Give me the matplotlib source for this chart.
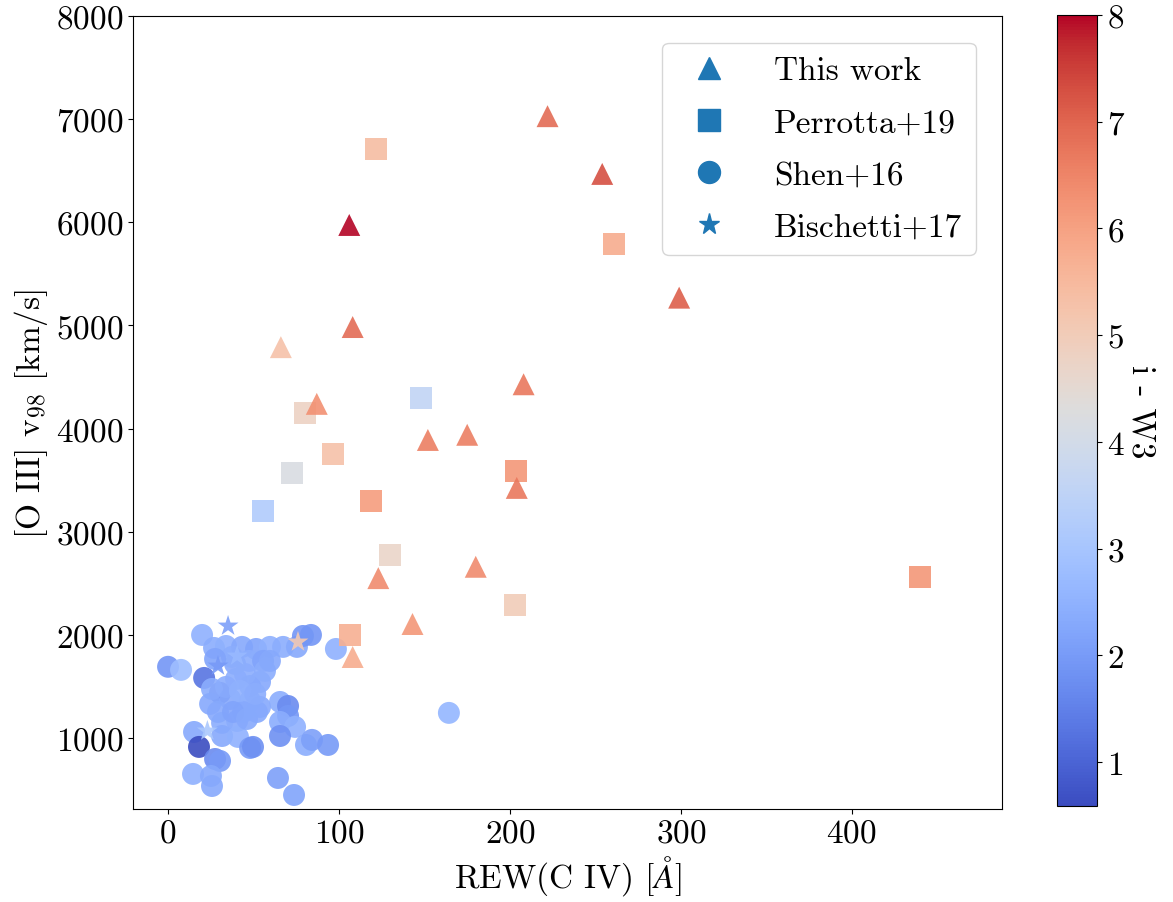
import matplotlib
matplotlib.use("Agg")
import matplotlib.pyplot as plt
from matplotlib.lines import Line2D

plt.rcParams["font.family"] = "serif"
plt.rcParams["font.serif"] = ["cmr10"]
plt.rcParams["mathtext.fontset"] = "cm"
plt.rcParams["axes.formatter.use_mathtext"] = True
plt.rcParams["axes.unicode_minus"] = False

# This work
this_rew = [222, 254, 106, 299, 108, 66, 208, 87, 152, 175, 204, 123, 180, 143, 108]
this_v98 = [7030, 6470, 5975, 5270, 4985, 4790, 4430, 4240, 3890, 3940, 3425, 2550, 2660, 2105, 1785]
this_iw3 = [6.9, 7.3, 8.0, 7.1, 6.9, 5.3, 6.7, 6.3, 6.6, 6.6, 6.7, 6.4, 6.4, 6.2, 5.8]

# Perrotta+19
perr_rew = [121.6, 261, 148, 80, 96.5, 72.5, 203.5, 55.5, 119, 130, 203, 440, 106.5]
perr_v98 = [6710, 5790, 4300, 4150, 3755, 3570, 3590, 3200, 3300, 2775, 2290, 2560, 2000]
perr_iw3 = [5.4, 5.8, 3.6, 4.8, 5.3, 4.2, 6.2, 3.2, 6.1, 4.7, 5.0, 6.2, 5.7]

# Shen+16
shen_rew = [0, 7.6, 19.9, 26.9, 33.9, 43.3, 51.5, 59.6, 67.3, 75.4, 78.9, 83.6, 98.2,
            21.1, 30.4, 39.2, 47.4, 55.6, 53.8, 39.8, 48.0, 33.9, 25.7, 36.3, 48.0,
            43.9, 53.8, 40.4, 31.6, 65.5, 70.2, 15.2, 18.1, 31.6, 40.9, 48.0, 27.5,
            30.4, 14.6, 25.1, 25.7, 29.2, 38.0, 46.2, 52.0, 70.2, 65.5, 74.3, 65.5,
            49.7, 80.7, 84.2, 93.6, 64.3, 73.7, 164.3, 45.0, 56.7, 42.0, 51.0, 37.4,
            27.5, 59.6, 24.6]
shen_v98 = [1690, 1660, 1999, 1873, 1892, 1883, 1863, 1883, 1883, 1883, 1989, 1999, 1863,
            1582, 1437, 1718, 1747, 1747, 1543, 1572, 1504, 1495, 1475, 1378, 1359,
            1252, 1301, 1165, 1146, 1349, 1310, 1058, 913, 1019, 1010, 903, 796,
            777, 651, 631, 534, 1252, 1252, 1184, 1252, 1213, 1155, 1107, 1019,
            913, 932, 981, 932, 612, 447, 1243, 1620, 1650, 1456, 1427, 1786,
            1766, 1747, 1330]
shen_iw3 = [1.9, 2.8, 2.5, 2.4, 2.5, 2.3, 2.2, 2.5, 2.4, 2.3, 1.9, 1.9, 2.5,
            1.3, 1.2, 2.3, 2.4, 2.2, 2.3, 2.4, 2.3, 2.4, 2.4, 2.3, 2.3,
            2.3, 2.3, 2.3, 2.4, 2.4, 1.7, 2.3, 0.59, 2.3, 2.5, 2.0, 1.7,
            2.0, 2.5, 2.3, 2.3, 2.3, 2.2, 2.3, 2.3, 1.9, 2.4, 2.5, 1.8,
            1.8, 2.4, 2.1, 2.0, 2.1, 2.2, 2.6, 2.4, 2.4, 2.5, 2.4, 2.4,
            2.2, 2.3, 2.3]

# Bischetti+17
bisc_rew = [35.1, 76.0, 29.2, 40.4, 23.0]
bisc_v98 = [2086, 1931, 1698, 1795, 1068]
bisc_iw3 = [2.1, 5.1, 2.0, 2.7, 3.1]

legend_labels = ["This work", "Perrotta+19", "Shen+16", "Bischetti+17"]

vmin, vmax = 0.59, 8.0
cmap = "coolwarm"
msize = 250
alpha = 0.9

fig = plt.figure(figsize=(11.73, 9.03), dpi=100)
ax = fig.add_axes([0.1134, 0.103, 0.741, 0.878])
cax = fig.add_axes([0.901, 0.1063, 0.0341, 0.876])

ax.scatter(shen_rew, shen_v98, c=shen_iw3, cmap=cmap, vmin=vmin, vmax=vmax,
           marker="o", s=msize, alpha=alpha, linewidths=0)
ax.scatter(perr_rew, perr_v98, c=perr_iw3, cmap=cmap, vmin=vmin, vmax=vmax,
           marker="s", s=msize, alpha=alpha, linewidths=0)
sc = ax.scatter(this_rew, this_v98, c=this_iw3, cmap=cmap, vmin=vmin, vmax=vmax,
                marker="^", s=msize, alpha=alpha, linewidths=0)
ax.scatter(bisc_rew, bisc_v98, c=bisc_iw3, cmap=cmap, vmin=vmin, vmax=vmax,
           marker="*", s=msize, alpha=alpha, linewidths=0)

ax.set_xlim(-20.5, 488)
ax.set_ylim(311, 8000)
ax.set_xticks([0, 100, 200, 300, 400])
ax.set_yticks(range(1000, 8001, 1000))
ax.tick_params(labelsize=24)
ax.set_xlabel(r"REW(C IV) [$\AA$]", fontsize=24)
ax.set_ylabel(r"[O III] v$_{98}$ [km/s]", fontsize=24)

handles = [
    Line2D([], [], linestyle="none", marker=m, color="C0", markersize=msize ** 0.5)
    for m in ["^", "s", "o", "*"]
]
ax.legend(handles, legend_labels, loc="upper right", fontsize=24,
          handletextpad=0.95, borderpad=0.4, labelspacing=0.68,
          borderaxespad=0.8)

cb = fig.colorbar(sc, cax=cax)
cb.solids.set_alpha(1)
cb.set_ticks(range(1, 9))
cb.ax.tick_params(labelsize=24)
cb.set_label("i - W3", fontsize=24, rotation=270, labelpad=22)

fig.savefig("out.png", dpi=100)
